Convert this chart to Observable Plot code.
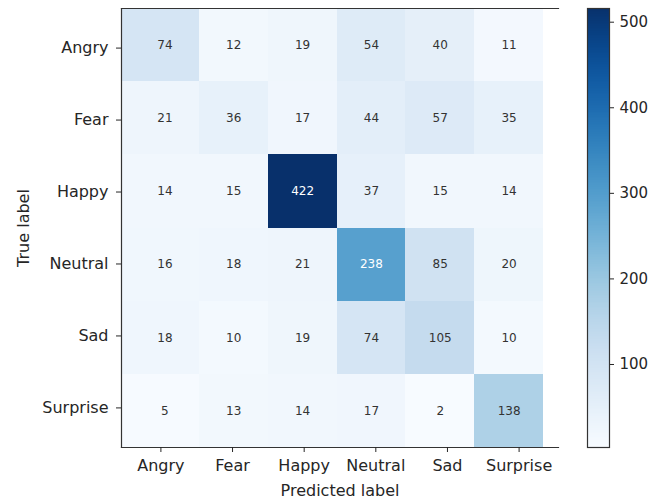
<!DOCTYPE html>
<html>
<head>
<meta charset="utf-8">
<script src="https://cdn.jsdelivr.net/npm/d3@7"></script>
<script src="https://cdn.jsdelivr.net/npm/@observablehq/plot@0.6"></script>
<style>
  html, body { margin: 0; padding: 0; background: #fff; }
  #wrap { position: relative; width: 662px; height: 502px; }
  #wrap > div, #wrap > svg { position: absolute; top: 0; }
</style>
</head>
<body>
<div id="wrap"></div>
<script>
const classes = ["Angry", "Fear", "Happy", "Neutral", "Sad", "Surprise"];
const counts = [
  [74, 12, 19, 54, 40, 11],
  [21, 36, 17, 44, 57, 35],
  [14, 15, 422, 37, 15, 14],
  [16, 18, 21, 238, 85, 20],
  [18, 10, 19, 74, 105, 10],
  [5, 13, 14, 17, 2, 138]
];
const colorbarTicks = [100, 200, 300, 400, 500];
const colorbarDomain = [3, 516];

const cells = counts.flatMap((row, i) => row.map((v, j) => ({true: classes[i], pred: classes[j], value: v})));
const firstCol = counts.map((row, i) => ({true: classes[i], value: row[0]}));
const vmin = d3.min(cells, d => d.value), vmax = d3.max(cells, d => d.value);
const thresh = (vmin + vmax) / 2;

const font = {fontFamily: "DejaVu Sans, sans-serif", fontSize: "16px", color: "#262626", background: "transparent", overflow: "visible"};
const wrap = document.getElementById("wrap");

// Heatmap cells
const cellsPlot = Plot.plot({
  width: 662, height: 502,
  marginLeft: 121, marginRight: 119, marginTop: 8, marginBottom: 55,
  style: font,
  x: {type: "band", domain: classes, range: [130, 543], padding: 0, round: false, axis: null},
  y: {type: "band", domain: classes, padding: 0, round: false, axis: null},
  color: {type: "linear", scheme: "blues", domain: [vmin, vmax]},
  marks: [
    Plot.cell(firstCol, {y: "true", fill: "value", inset: 0, shapeRendering: "crispEdges"}),
    Plot.cell(cells, {x: "pred", y: "true", fill: "value", inset: 0, shapeRendering: "crispEdges"}),
    Plot.text(cells, {filter: d => d.value <= thresh, x: "pred", y: "true", text: "value", fill: "#333", fontSize: 12}),
    Plot.text(cells, {filter: d => d.value > thresh, x: "pred", y: "true", text: "value", fill: "white", fontSize: 12})
  ]
});
cellsPlot.style.left = "0px";
wrap.appendChild(cellsPlot);

// Axes and spines
const axesPlot = Plot.plot({
  width: 662, height: 502,
  marginLeft: 121, marginRight: 104, marginTop: 8, marginBottom: 55,
  style: font,
  x: {type: "band", domain: classes, round: false},
  y: {type: "band", domain: classes, round: false},
  marks: [
    Plot.frame({anchor: "left", stroke: "#333", strokeWidth: 1.2}),
    Plot.frame({anchor: "top", stroke: "#333", strokeWidth: 1.2}),
    Plot.frame({anchor: "bottom", stroke: "#333", strokeWidth: 1.2}),
    Plot.axisX({tickSize: 5, tickPadding: 7, fontSize: 16, label: "Predicted label", labelAnchor: "center", labelOffset: 48}),
    Plot.axisY({tickSize: 5, tickPadding: 8, fontSize: 16, label: "True label", labelAnchor: "center", labelOffset: 104})
  ]
});
axesPlot.style.left = "0px";
wrap.appendChild(axesPlot);

// Colorbar
const stops = d3.range(colorbarDomain[0], colorbarDomain[1], 2);
const cbar = Plot.plot({
  width: 75, height: 502,
  marginLeft: 0, marginRight: 53, marginTop: 8, marginBottom: 55,
  style: font,
  x: {axis: null},
  y: {type: "linear", domain: colorbarDomain, axis: null},
  color: {type: "linear", scheme: "blues", domain: colorbarDomain},
  marks: [
    Plot.rect(stops, {y1: d => d, y2: d => Math.min(d + 3, colorbarDomain[1]), fill: d => d, shapeRendering: "crispEdges"}),
    Plot.frame({stroke: "#333", strokeWidth: 1.2}),
    Plot.axisY({anchor: "right", ticks: colorbarTicks, tickSize: 4, tickPadding: 6, fontSize: 15, label: null})
  ]
});
cbar.style.left = "587px";
wrap.appendChild(cbar);
</script>
</body>
</html>
